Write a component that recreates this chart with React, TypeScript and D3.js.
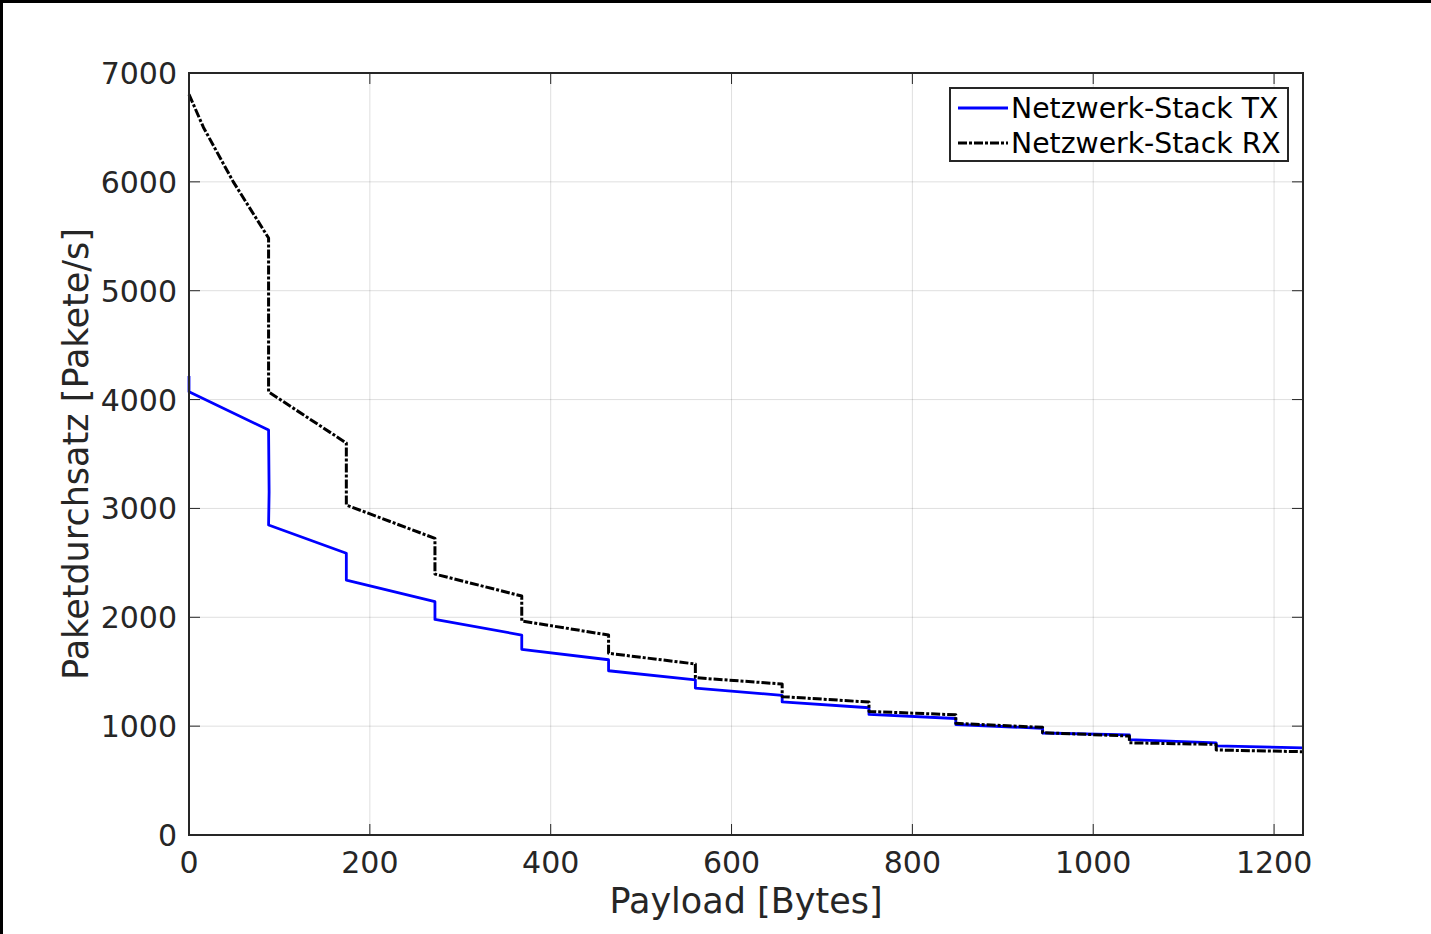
import React from "react";
import * as d3 from "d3";

// Step boundaries (payload in bytes) and segment start / end throughput values
const stepX = [0, 88, 174, 272, 368, 464, 560, 656, 752, 848, 944, 1040, 1136, 1232];
const txStart = [4072, 2848, 2342, 1980, 1706, 1509, 1350, 1222, 1108, 1015, 937, 877, 818];
const txEnd = [3720, 2588, 2143, 1837, 1610, 1426, 1283, 1169, 1070, 980, 919, 847, 800];
const rxStart = [6804, 4070, 3031, 2397, 1966, 1669, 1445, 1271, 1135, 1026, 940, 847, 781];
const rxEnd = [5484, 3601, 2725, 2195, 1837, 1571, 1387, 1221, 1104, 989, 909, 832, 765];
// extra points inside the first segments
const txSpikeX = [0, 88];
const txSpikeY = [4216, 3153];
const rxFirstSegX = [16, 49];
const rxFirstSegY = [6500, 6000];

const xTicks = [0, 200, 400, 600, 800, 1000, 1200];
const yTicks = [0, 1000, 2000, 3000, 4000, 5000, 6000, 7000];
const seriesNames = ["Netzwerk-Stack TX", "Netzwerk-Stack RX"];

type P = [number, number];

function buildTX(): P[] {
  const pts: P[] = [];
  pts.push([txSpikeX[0], txSpikeY[0]]);
  for (let i = 0; i < txStart.length; i++) {
    pts.push([stepX[i], txStart[i]]);
    pts.push([stepX[i + 1], txEnd[i]]);
    if (i === 0) pts.push([txSpikeX[1] + 0.6, txSpikeY[1]]);
  }
  return pts;
}

function buildRX(): P[] {
  const pts: P[] = [];
  for (let i = 0; i < rxStart.length; i++) {
    pts.push([stepX[i], rxStart[i]]);
    if (i === 0) {
      for (let j = 0; j < rxFirstSegX.length; j++) pts.push([rxFirstSegX[j], rxFirstSegY[j]]);
    }
    pts.push([stepX[i + 1], rxEnd[i]]);
  }
  return pts;
}

const W = 1431;
const H = 934;
const left = 189;
const right = 1303;
const top = 73;
const bottom = 835;
const axisColor = "#262626";
const font = "DejaVu Sans";
const dash = "9,2,3,2";

export default function App() {
  const x = d3.scaleLinear().domain([0, 1232]).range([left, right]);
  const y = d3.scaleLinear().domain([0, 7000]).range([bottom, top]);
  const line = d3
    .line<P>()
    .x((d) => x(d[0]))
    .y((d) => y(d[1]));
  const tx = buildTX();
  const rx = buildRX();
  const tl = 11;

  return (
    <svg
      width={W}
      height={H}
      style={{ position: "absolute", left: 0, top: 0, background: "#fff" }}
      fontFamily={font}
    >
      <rect x={0} y={0} width={W} height={H} fill="#fff" />
      <rect x={0} y={0} width={W} height={3} fill="#000" />
      <rect x={0} y={0} width={3} height={H} fill="#000" />

      {/* grid */}
      <g stroke={axisColor} strokeOpacity={0.15} strokeWidth={1}>
        {xTicks.map((t) => (
          <line key={"gx" + t} x1={x(t)} x2={x(t)} y1={top} y2={bottom} />
        ))}
        {yTicks.map((t) => (
          <line key={"gy" + t} x1={left} x2={right} y1={y(t)} y2={y(t)} />
        ))}
      </g>

      {/* ticks */}
      <g stroke={axisColor} strokeWidth={1}>
        {xTicks.map((t) => (
          <g key={"tx" + t}>
            <line x1={x(t)} x2={x(t)} y1={bottom} y2={bottom - tl} />
            <line x1={x(t)} x2={x(t)} y1={top} y2={top + tl} />
          </g>
        ))}
        {yTicks.map((t) => (
          <g key={"ty" + t}>
            <line x1={left} x2={left + tl} y1={y(t)} y2={y(t)} />
            <line x1={right} x2={right - tl} y1={y(t)} y2={y(t)} />
          </g>
        ))}
      </g>

      {/* data */}
      <path d={line(tx) || ""} fill="none" stroke="#0000ff" strokeWidth={2.8} strokeLinejoin="round" />
      <path
        d={line(rx) || ""}
        fill="none"
        stroke="#000"
        strokeWidth={3}
        strokeDasharray={dash}
        strokeLinejoin="round"
      />

      {/* box */}
      <rect x={left} y={top} width={right - left} height={bottom - top} fill="none" stroke={axisColor} strokeWidth={2} />

      {/* tick labels */}
      <g fill={axisColor} fontSize={30}>
        {xTicks.map((t) => (
          <text key={"lx" + t} x={x(t)} y={873} textAnchor="middle">
            {t}
          </text>
        ))}
        {yTicks.map((t) => (
          <text key={"ly" + t} x={177} y={y(t) + 11} textAnchor="end">
            {t}
          </text>
        ))}
      </g>

      {/* axis labels */}
      <text x={(left + right) / 2} y={913} textAnchor="middle" fontSize={35} fill={axisColor}>
        Payload [Bytes]
      </text>
      <text
        transform={`translate(88, ${(top + bottom) / 2}) rotate(-90)`}
        textAnchor="middle"
        fontSize={35}
        fill={axisColor}
      >
        Paketdurchsatz [Pakete/s]
      </text>

      {/* legend */}
      <g>
        <rect x={950} y={88} width={338} height={73} fill="#fff" stroke={axisColor} strokeWidth={2} />
        <line x1={958} x2={1008} y1={108} y2={108} stroke="#0000ff" strokeWidth={2.8} />
        <line x1={958} x2={1008} y1={143} y2={143} stroke="#000" strokeWidth={3} strokeDasharray={dash} />
        <text x={1011} y={118} fontSize={28.3} fill="#000">
          {seriesNames[0]}
        </text>
        <text x={1011} y={153} fontSize={28.3} fill="#000">
          {seriesNames[1]}
        </text>
      </g>
    </svg>
  );
}
